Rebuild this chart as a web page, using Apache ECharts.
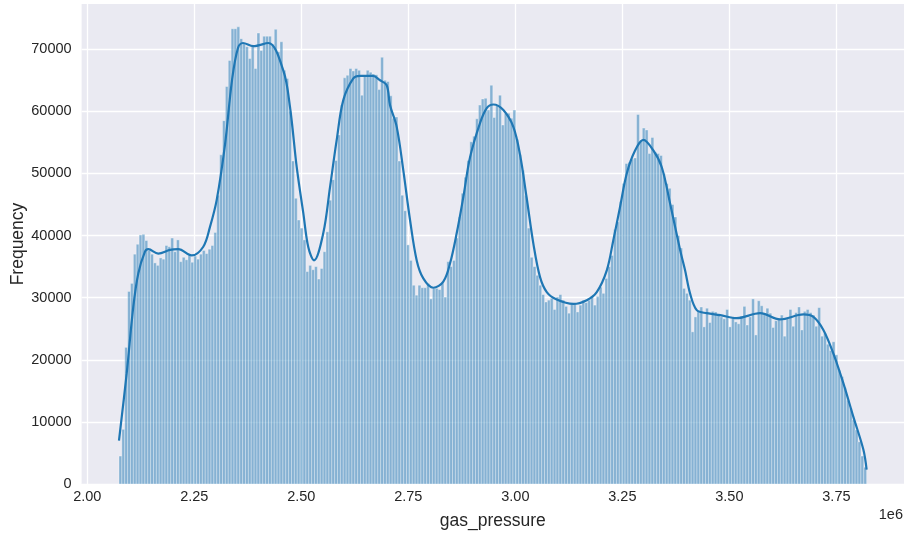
<!DOCTYPE html>
<html><head><meta charset="utf-8">
<script src="https://cdn.jsdelivr.net/npm/echarts@6/dist/echarts.min.js"></script>
<style>html,body{margin:0;padding:0;background:#fff}#chart{width:904px;height:535px}</style>
</head><body><div id="chart"></div>
<script>
// ---- data ----
const binStart = 2074100;
const binEnd = 3820600;
const counts = [
  4500, 8800, 22000, 31000, 32300, 37000, 38600, 40100, 40200, 39200,
  37600, 37000, 35600, 35200, 36400, 36200, 38400, 38200, 39600, 37400,
  39300, 35800, 36500, 36100, 36800, 35700, 36700, 36200, 37000, 37600,
  37100, 37800, 38400, 40500, 46500, 53000, 58500, 64000, 68200, 73300,
  73300, 73600, 71700, 70900, 70400, 68500, 70500, 66900, 72600, 69800,
  72100, 72100, 72100, 70800, 73200, 69600, 71200, 66600, 65300, 60000,
  52000, 46000, 42500, 41200, 39300, 34200, 35200, 34500, 35000, 33000,
  34700, 37400, 40600, 45700, 49000, 52100, 56200, 61000, 65400, 65800,
  66900, 66500, 66900, 66600, 62600, 65800, 66600, 66300, 66000, 65900,
  63500, 68700, 65000, 64800, 62500, 58900, 59100, 52000, 46500, 44000,
  38500, 36000, 32000, 30400, 32000, 31600, 31600, 32300, 29800, 31500,
  31500, 31300, 32400, 30100, 35800, 35000, 36000, 39600, 43000, 46800,
  49400, 52100, 55100, 56000, 58800, 61000, 62000, 62100, 60200, 64200,
  59000, 61000, 62600, 57800, 59700, 59700, 58900, 60200, 55500, 53000,
  50500, 46500, 41200, 36500, 35000, 33600, 32000, 30500, 29300, 29600,
  29900, 28100, 30100, 30500, 29600, 28600, 27500, 29000, 29100, 27700,
  28800, 29600, 29200, 29600, 30200, 28800, 30200, 31700, 30700, 33100,
  35000, 36800, 41000, 42200, 45500, 48400, 51600, 51800, 52300, 52500,
  59500, 55400, 57300, 57000, 53200, 55800, 53400, 53200, 52900, 50000,
  48400, 47600, 45000, 43000, 40000, 38000, 31500, 30700, 29600, 24500,
  26900, 27900, 28500, 25300, 28300, 26000, 27800, 27700, 27400, 26900,
  26600, 28100, 25300, 26900, 26100, 25800, 27000, 28600, 25600, 26900,
  29800, 24000, 29500, 28700, 27500, 28300, 27500, 25200, 26300, 26600,
  27200, 23800, 26700, 28100, 25400, 27600, 28500, 24800, 27800, 28100,
  27600, 27200, 25400, 28400, 23800, 24300, 22500, 21500, 22900, 20800,
  18300, 17300, 15500, 13500, 12200, 10300, 8700, 6800, 4500, 2700
];
const kdeX = [2074100, 2092100, 2107500, 2119200, 2134800, 2142500, 2165900, 2193200, 2212600, 2243900,
  2271000, 2286700, 2302300, 2321700, 2338100, 2352100, 2363800, 2387900, 2422900, 2457900,
  2473600, 2489300, 2504700, 2516400, 2529700, 2551400, 2567100, 2582700, 2598100, 2621500,
  2637100, 2667500, 2683900, 2699500, 2707200, 2722900, 2738300, 2754000, 2769600, 2785000,
  2808400, 2831800, 2847400, 2863100, 2878500, 2894200, 2917500, 2933200, 2948600, 2972000,
  2995300, 3011000, 3026600, 3042100, 3057700, 3073400, 3096700, 3135500, 3166800, 3190200,
  3213600, 3229000, 3244600, 3260300, 3279700, 3299100, 3322400, 3342100, 3361400, 3384800,
  3396500, 3408100, 3423800, 3447200, 3478300, 3517300, 3571700, 3618400, 3672900, 3696300,
  3719600, 3743000, 3766400, 3789700, 3813100, 3820600];
const kdeY = [7000, 17800, 28500, 33900, 37400, 37800, 37100, 37700, 37800, 36800,
  38200, 41400, 45700, 54600, 65000, 70200, 71000, 70500, 71000, 66600,
  60700, 51000, 43600, 38100, 36000, 40400, 47800, 55400, 61800, 65300,
  65700, 65700, 65000, 64200, 61000, 57500, 50500, 42500, 36000, 33100,
  31600, 32600, 35500, 40400, 46200, 52600, 58100, 60500, 61100, 60200,
  57500, 53000, 46000, 38700, 33300, 30900, 29700, 29000, 29600, 30900,
  34400, 39300, 44600, 50000, 53700, 55400, 53700, 51000, 45200, 37700,
  34400, 30700, 28000, 27500, 27200, 26700, 27500, 26500, 27300, 26900,
  24800, 21000, 16200, 10800, 5500, 2300];
const xTickValues = [2000000, 2250000, 2500000, 2750000, 3000000, 3250000, 3500000, 3750000];
const yTickValues = [0, 10000, 20000, 30000, 40000, 50000, 60000, 70000];
const xName = 'gas_pressure';
const yName = 'Frequency';
const xOffsetText = '1e6';

// ---- build ----
const binW = (binEnd - binStart) / counts.length;
const histData = counts.map((c, i) => [binStart + i * binW, binStart + (i + 1) * binW, c]);
const kdeData = kdeX.map((x, i) => [x, kdeY[i]]);
const xMin = binStart - 0.05 * (binEnd - binStart);
const xMax = binEnd + 0.05 * (binEnd - binStart);
const yMax = 73600 * 1.05;

const FONT = 'Liberation Sans, Arial, Helvetica, sans-serif';
const TXT = '#262626';
const chart = echarts.init(document.getElementById('chart'), null, {renderer: 'canvas'});
chart.setOption({
  animation: false,
  backgroundColor: '#ffffff',
  grid: {left: 81.6, top: 4, width: 822.4, height: 480, show: true, backgroundColor: '#EAEAF2', borderWidth: 0,
         containLabel: false, outerBoundsMode: 'none'},
  xAxis: {
    type: 'value', min: xMin, max: xMax,
    name: xName, nameLocation: 'middle', nameGap: 28,
    nameTextStyle: {fontFamily: FONT, fontSize: 17.5, color: TXT},
    axisLine: {show: false},
    axisTick: {show: false, customValues: xTickValues},
    axisLabel: {customValues: xTickValues, formatter: v => (v / 1e6).toFixed(2), fontFamily: FONT, fontSize: 14.5, color: TXT, margin: 5},
    splitLine: {show: true, lineStyle: {color: '#ffffff', width: 1.3}}
  },
  yAxis: {
    type: 'value', min: 0, max: yMax,
    name: yName, nameLocation: 'middle', nameGap: 54, nameRotate: 90, nameMoveOverlap: false,
    nameTextStyle: {fontFamily: FONT, fontSize: 17.5, color: TXT},
    axisLine: {show: false},
    axisTick: {show: false, customValues: yTickValues},
    axisLabel: {customValues: yTickValues, formatter: v => String(v), fontFamily: FONT, fontSize: 14.5, color: TXT, margin: 10},
    splitLine: {show: true, lineStyle: {color: '#ffffff', width: 1.3}}
  },
  graphic: [{type: 'text', right: 1, top: 507, style: {text: xOffsetText, font: '14.5px ' + FONT, fill: TXT}}],
  series: [
    {
      type: 'custom',
      data: histData,
      encode: {x: [0, 1], y: 2},
      z: 2,
      renderItem: (params, api) => {
        const p0 = api.coord([api.value(0), api.value(2)]);
        const p1 = api.coord([api.value(1), 0]);
        return {type: 'rect', shape: {x: p0[0], y: p0[1], width: p1[0] - p0[0], height: p1[1] - p0[1]},
          style: {fill: 'rgba(31,119,180,0.5)', stroke: 'rgba(255,255,255,0.55)', lineWidth: 0.6}};
      }
    },
    {
      type: 'line', data: kdeData, smooth: 0.35, showSymbol: false, z: 3,
      lineStyle: {color: '#1f77b4', width: 2.2}
    }
  ]
});
</script></body></html>
